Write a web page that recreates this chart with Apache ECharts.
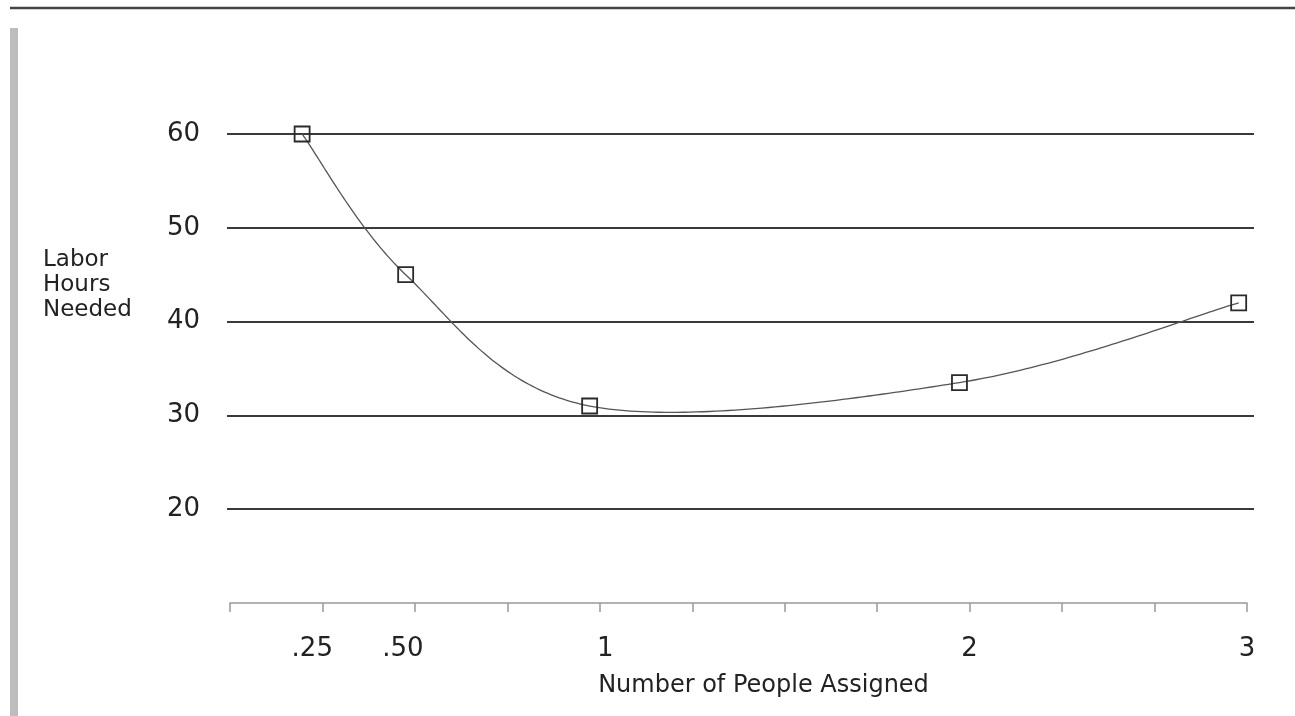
<!DOCTYPE html>
<html>
<head>
<meta charset="utf-8">
<script src="https://cdn.jsdelivr.net/npm/echarts@6/dist/echarts.min.js"></script>
<style>
  html, body { margin: 0; padding: 0; background: #fff; }
  #chart { width: 1295px; height: 716px; }
</style>
</head>
<body>
<div id="chart"></div>
<script>
// ---- data ----
const peopleLabels   = ['.25', '.50', '1', '2', '3'];
const pointPositions = [0.78, 1.90, 3.89, 7.89, 10.91];   // position of each point along the drawn x scale
const labelPositions = [0.89, 1.87, 4.06, 8.00, 11.0];    // position of each tick label along the drawn x scale
const laborHours     = [60, 45, 31, 33.5, 42];
const yMin = 10, yMax = 60, yStep = 10;
const xMin = 0, xMax = 11, xStep = 1;
const yAxisTitle = 'Labor\nHours\nNeeded';
const xAxisTitle = 'Number of People Assigned';

const FONT = 'DejaVu Sans';
const TEXT = '#222';

const pointData = pointPositions.map((x, i) => [x, laborHours[i]]);

// Catmull-Rom style curve through the pixel positions given by the axes
function curvePoints(p, k, samples) {
  const n = p.length, out = [p[0]];
  for (let i = 0; i < n - 1; i++) {
    const p0 = p[Math.max(i - 1, 0)], p1 = p[i], p2 = p[i + 1], p3 = p[Math.min(i + 2, n - 1)];
    const c1 = [p1[0] + (p2[0] - p0[0]) * k, p1[1] + (p2[1] - p0[1]) * k];
    const c2 = [p2[0] - (p3[0] - p1[0]) * k, p2[1] - (p3[1] - p1[1]) * k];
    for (let s = 1; s <= samples; s++) {
      const t = s / samples, u = 1 - t;
      const a = u * u * u, b = 3 * u * u * t, c = 3 * u * t * t, d = t * t * t;
      out.push([a * p1[0] + b * c1[0] + c * c2[0] + d * p2[0],
                a * p1[1] + b * c1[1] + c * c2[1] + d * p2[1]]);
    }
  }
  return out;
}

const chart = echarts.init(document.getElementById('chart'));
chart.setOption({
  animation: false,
  backgroundColor: '#fff',
  title: [{
    text: yAxisTitle,
    left: 43, top: 248, padding: 0,
    textStyle: { fontFamily: FONT, fontSize: 23, lineHeight: 25, fontWeight: 'normal', color: TEXT }
  }],
  graphic: [
    { type: 'line', shape: { x1: 10, y1: 8, x2: 1295, y2: 8 }, style: { stroke: '#444', lineWidth: 2.5 } },
    { type: 'rect', shape: { x: 10, y: 28, width: 8, height: 700 }, style: { fill: '#bdbdbd' } }
  ],
  grid: [
    { left: 227, right: 41, top: 134, bottom: 113 },
    { left: 230, right: 48, top: 134, bottom: 113 }
  ],
  xAxis: [
    { gridIndex: 0, type: 'value', min: 0, max: 1, show: false },
    {
      gridIndex: 1, type: 'value', min: xMin, max: xMax, interval: xStep,
      name: xAxisTitle, nameLocation: 'middle', nameGap: 71,
      nameTextStyle: { fontFamily: FONT, fontSize: 24, color: TEXT, padding: [0, 0, 0, 50] },
      axisLine: { show: true, lineStyle: { color: '#999', width: 1.5 } },
      axisTick: { show: true, length: 9, lineStyle: { color: '#999', width: 1.5 } },
      splitLine: { show: false },
      axisLabel: {
        customValues: labelPositions,
        formatter: v => { const i = labelPositions.indexOf(v); return i >= 0 ? peopleLabels[i] : ''; },
        fontFamily: FONT, fontSize: 26, color: TEXT, margin: 33
      }
    }
  ],
  yAxis: [
    {
      gridIndex: 0, type: 'value', min: yMin, max: yMax, interval: yStep,
      axisLine: { show: false }, axisTick: { show: false },
      splitLine: { show: true, showMinLine: false, lineStyle: { color: '#3a3a3a', width: 1.8 } },
      axisLabel: { showMinLabel: false, fontFamily: FONT, fontSize: 26, color: TEXT, margin: 27 }
    },
    { gridIndex: 1, type: 'value', min: yMin, max: yMax, interval: yStep, show: false }
  ],
  series: [
    {
      type: 'custom',
      coordinateSystem: 'cartesian2d',
      xAxisIndex: 1, yAxisIndex: 1,
      data: pointData,
      encode: { x: 0, y: 1 },
      renderItem: function (params, api) {
        if (params.dataIndex !== 0) return null;
        const pix = pointData.map(p => api.coord(p));
        return {
          type: 'polyline',
          shape: { points: curvePoints(pix, 1 / 6, 60) },
          style: { stroke: '#555', lineWidth: 1.3, fill: null }
        };
      },
      z: 4
    },
    {
      type: 'scatter',
      xAxisIndex: 1, yAxisIndex: 1,
      data: pointData,
      symbol: 'rect', symbolSize: 15,
      itemStyle: { color: 'rgba(0,0,0,0)', borderColor: '#2a2a2a', borderWidth: 1.8, opacity: 1 },
      z: 5
    }
  ]
});
</script>
</body>
</html>
